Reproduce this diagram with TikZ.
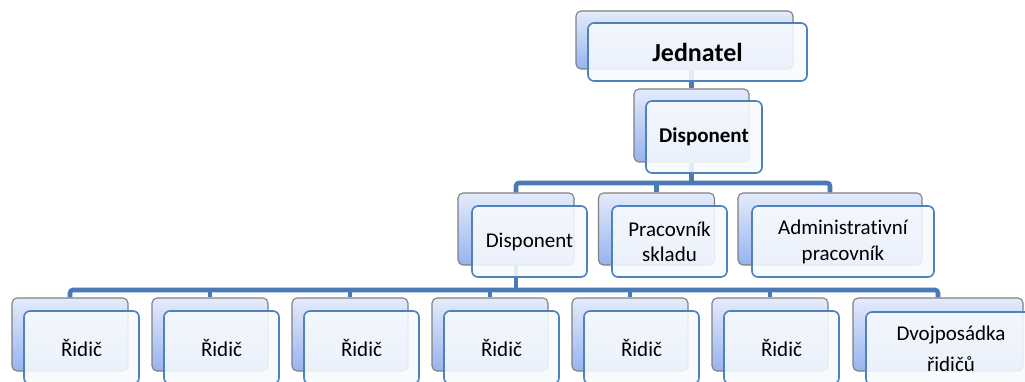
\documentclass[tikz,border=0pt]{standalone}
\usepackage{fontspec}
\setmainfont{Carlito}[Ligatures={NoCommon}]
\usetikzlibrary{calc}
\definecolor{lineblue}{RGB}{74,122,182}
\definecolor{frameblue}{RGB}{79,129,189}
\definecolor{backtop}{RGB}{228,235,251}
\definecolor{backbot}{RGB}{150,180,240}
\definecolor{frontfill}{RGB}{247,250,254}
\tikzset{
  backbox/.style={rectangle, rounded corners=5pt, draw=black!50, line width=1.1pt,
    top color=backtop, bottom color=backbot, inner sep=0pt},
  frontbox/.style={rectangle, rounded corners=6pt, draw=frameblue, line width=1.6pt,
    fill=frontfill, fill opacity=0.88, text opacity=1, inner sep=0pt, align=center,
    font=\fontsize{21}{25}\selectfont},
  conn/.style={draw=lineblue, line width=4.6pt, rounded corners=3pt}
}
\begin{document}
\begin{tikzpicture}[x=1pt,y=-1pt]
\useasboundingbox (0,0) rectangle (1025,382);
\clip (0,0) rectangle (1025,382);

% ---- back plates ----
\node[backbox, minimum width=217pt, minimum height=58pt] (jb) at (684.5,40) {};
\node[backbox, minimum width=115pt, minimum height=73pt] (d1b) at (691.5,125.5) {};
\node[backbox, minimum width=116pt, minimum height=72pt] (d2b) at (516,229) {};
\node[backbox, minimum width=116pt, minimum height=72pt] (pb) at (656.5,229) {};
\node[backbox, minimum width=184pt, minimum height=72pt] (ab) at (830,229) {};
\foreach \i in {1,...,6}{
  \node[backbox, minimum width=116pt, minimum height=73pt] (r\i b) at (70+140*\i-140,334.5) {};
}
\node[backbox, minimum width=170pt, minimum height=73pt] (dvb) at (938,334.5) {};

% ---- connectors ----
\coordinate (busA) at (0,183);
\coordinate (busB) at (0,290);
\draw[conn] (d1b.north |- jb.south) -- (d1b.north);
\draw[conn] (d1b.south) -- (d1b.south |- busA);
\draw[conn] (d2b.north) -- (d2b.north |- busA) -- (ab.north |- busA) -- (ab.north);
\draw[conn] (pb.north |- busA) -- (pb.north);
\draw[conn] (d2b.south) -- (d2b.south |- busB);
\draw[conn] (r1b.north) -- (r1b.north |- busB) -- (dvb.north |- busB) -- (dvb.north);
\foreach \i in {2,...,6}{
  \draw[conn] (r\i b.north |- busB) -- (r\i b.north);
}

% ---- front plates with labels ----
\node[frontbox, minimum width=219pt, minimum height=58pt,
      font=\fontsize{26}{30}\selectfont\bfseries] (jf) at (697.5,52) {Jednatel};
\node[frontbox, minimum width=116pt, minimum height=72pt, font=\fontsize{21}{25}\selectfont\bfseries]
      (d1f) at (704,137) {Disponent};
\node[frontbox, minimum width=115pt, minimum height=71pt] (d2f) at (529.5,241.5) {Disponent};
\node[frontbox, minimum width=115pt, minimum height=71pt] (pf) at (669.5,241.5) {Pracovník\\skladu};
\node[frontbox, minimum width=182pt, minimum height=71pt, font=\fontsize{21}{26}\selectfont]
      (af) at (843,241.5) {Administrativní\\pracovník};
\foreach \i in {1,...,6}{
  \node[frontbox, minimum width=115pt, minimum height=73pt] (r\i f) at (81.5+140*\i-140,347.5) {Řidič};
}
\node[frontbox, minimum width=170pt, minimum height=73pt, font=\fontsize{21}{31}\selectfont]
      (dvf) at (951,348.5) {Dvojposádka\\řidičů};
\end{tikzpicture}
\end{document}
